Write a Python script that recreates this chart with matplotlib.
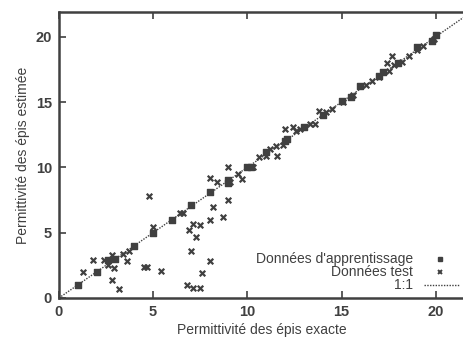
import numpy as np
import matplotlib.pyplot as plt

plt.rcParams['font.family'] = ['Liberation Sans', 'DejaVu Sans']

# training data (on the 1:1 line)
train_x = [1.0, 2.0, 2.6, 3.0, 4.0, 5.0, 6.0, 7.0, 8.0, 9.0, 9.0, 10.0, 10.2,
           11.0, 12.0, 12.1, 13.0, 14.0, 15.0, 15.5, 16.0, 17.0, 17.2, 18.0,
           19.0, 19.8, 20.0]
train_y = [1.0, 2.0, 2.9, 3.0, 4.0, 5.0, 6.0, 7.1, 8.1, 9.0, 8.8, 10.0, 10.0,
           11.2, 12.0, 12.2, 13.1, 14.0, 15.1, 15.4, 16.2, 17.0, 17.3, 18.0,
           19.2, 19.7, 20.1]

# test data
test_x = [1.3, 1.8, 2.4, 2.6, 2.8, 2.9, 2.8, 3.2, 3.6, 3.7, 3.4, 4.5, 4.7,
          4.8, 5.0, 5.4, 6.4, 6.6, 6.8, 7.1, 7.5, 7.6, 6.9, 7.1, 7.5, 7.3,
          7.0, 8.0, 8.0, 8.2, 8.7, 9.0, 8.0, 8.4, 9.0, 9.5, 9.7, 9.1, 10.3,
          10.6, 11.0, 11.6, 12.0, 12.4, 11.9, 11.2, 11.5, 12.6, 12.8, 13.3,
          13.6, 13.8, 14.2, 14.5, 15.1, 15.6, 16.3, 16.6, 17.0, 17.4, 17.7,
          17.5, 17.8, 18.2, 18.6, 19.0, 19.3, 19.9]
test_y = [2.0, 2.9, 2.9, 2.5, 3.3, 2.3, 1.4, 0.7, 2.8, 3.6, 3.4, 2.4, 2.4,
          7.8, 5.4, 2.1, 6.5, 6.5, 1.0, 0.8, 0.8, 1.9, 5.2, 5.7, 5.6, 4.7,
          3.6, 2.8, 6.0, 7.0, 6.2, 7.5, 9.2, 8.9, 10.0, 9.5, 9.1, 8.9, 10.0,
          10.8, 10.9, 10.9, 12.9, 13.1, 11.7, 11.4, 11.6, 12.8, 12.9, 13.3,
          13.3, 14.3, 14.2, 14.5, 15.0, 15.5, 16.3, 16.6, 16.9, 18.0, 18.5,
          17.4, 17.8, 18.1, 18.5, 19.0, 19.3, 19.8]

ticks = [0, 5, 10, 15, 20]
legend_labels = ["Données d'apprentissage", 'Données test', '1:1']
grey = '#404040'

fig = plt.figure(figsize=(4.64, 3.39), dpi=100)
ax = fig.add_axes([0.127, 0.121, 0.873, 0.844])

ax.plot([0, 22], [0, 22], ls=(0, (1, 1)), color=grey, lw=1.0, zorder=1)
ax.scatter(train_x, train_y, marker='s', s=18, color=grey, zorder=3)
ax.scatter(test_x, test_y, marker='x', s=16, color=grey, linewidths=1.6, zorder=3)

ax.set_xlim(0, 21.5)
ax.set_ylim(0, 21.9)
ax.set_xticks(ticks)
ax.set_yticks(ticks)
ax.tick_params(direction='in', length=5, width=1.2, color=grey, top=True,
               labelsize=10.5, labelcolor=grey, pad=5)
for lab in ax.get_xticklabels() + ax.get_yticklabels():
    lab.set_fontweight('bold')
for side in ['left', 'bottom', 'top']:
    ax.spines[side].set_linewidth(1.8)
    ax.spines[side].set_color(grey)
ax.spines['right'].set_visible(False)

ax.set_xlabel('Permittivité des épis exacte', fontsize=10, color=grey, labelpad=3)
ax.set_ylabel('Permittivité des épis estimée', fontsize=10, color=grey, labelpad=4)

# gnuplot-style key: right-aligned text, sample to the right
key_y = [0.136, 0.091, 0.045]
for lab, yy in zip(legend_labels, key_y):
    ax.text(0.874, yy, lab, transform=ax.transAxes, ha='right', va='center',
            fontsize=10, color=grey)
ax.plot([0.941], [key_y[0]], transform=ax.transAxes, marker='s', ms=3.5,
        color=grey, ls='none', clip_on=False)
ax.plot([0.941], [key_y[1]], transform=ax.transAxes, marker='x', ms=3.5,
        mew=1.4, color=grey, ls='none', clip_on=False)
ax.plot([0.901, 0.988], [key_y[2]] * 2, transform=ax.transAxes,
        ls=(0, (1, 1)), color=grey, lw=1.0, clip_on=False)

fig.savefig('out.png', dpi=100)
